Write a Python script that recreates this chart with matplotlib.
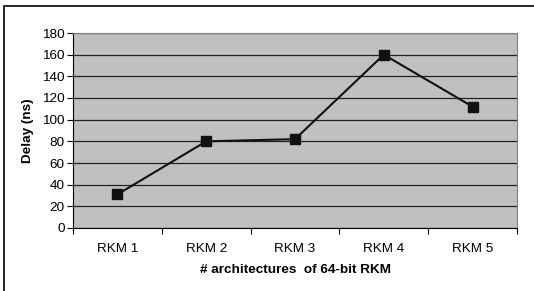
import matplotlib.pyplot as plt
from matplotlib.patches import Rectangle

# --- data ---
archs = ['RKM 1', 'RKM 2', 'RKM 3', 'RKM 4', 'RKM 5']
delay_ns = [31, 80, 82, 160, 112]
yticks = [0, 20, 40, 60, 80, 100, 120, 140, 160, 180]

plt.rcParams['font.family'] = ['Liberation Sans', 'DejaVu Sans']

W, H = 534, 291
fig = plt.figure(figsize=(W / 100, H / 100), dpi=100)
fig.patch.set_facecolor('white')

# outer chart frame (only left/top edges are inside the image)
fig.patches.append(Rectangle((4 / W, -0.05), 1.2, 1 - 6 / H + 0.05,
                             transform=fig.transFigure, fill=False,
                             edgecolor='black', linewidth=1.2))

ax = fig.add_axes([73 / W, 1 - 228 / H, (517 - 73) / W, (228 - 33) / H])
ax.set_facecolor('#c0c0c0')

x = [i + 0.5 for i in range(len(archs))]
ax.plot(x, delay_ns, color='#111111', linewidth=1.5, marker='s',
        markersize=7, markerfacecolor='#111111', markeredgecolor='#111111',
        zorder=3)

ax.set_xlim(0, len(archs))
ax.set_ylim(0, 180)
ax.set_yticks(yticks)
ax.set_yticklabels([str(v) for v in yticks], fontsize=9.7)
ax.set_xticks(range(len(archs) + 1))
ax.set_xticklabels([])
ax.set_xticks(x, minor=True)
ax.set_xticklabels(archs, minor=True, fontsize=9.7)
ax.tick_params(axis='x', which='minor', length=0, pad=11)
ax.tick_params(axis='x', which='major', length=4, direction='out', color='black')
ax.tick_params(axis='y', length=4, direction='out', color='black', pad=2)

ax.yaxis.grid(True, color='#222222', linewidth=0.9)
ax.set_axisbelow(True)

for side in ['top', 'right']:
    ax.spines[side].set_color('#808080')
ax.spines['left'].set_color('black')
ax.spines['bottom'].set_color('black')

ax.set_ylabel('Delay (ns)', fontsize=9.7, fontweight='bold', labelpad=6)
ax.set_xlabel('# architectures  of 64-bit RKM', fontsize=9.7,
              fontweight='bold', labelpad=6)

fig.savefig('out.png', dpi=100)
